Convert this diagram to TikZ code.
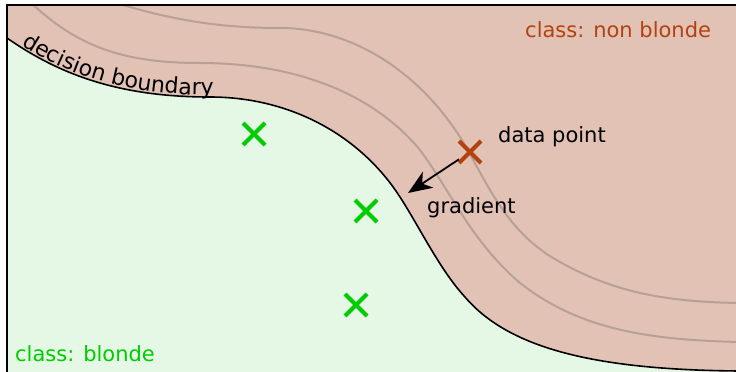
\documentclass[tikz,border=0pt]{standalone}
\usepackage{fontspec}
\setmainfont{DejaVu Sans}
\usetikzlibrary{arrows.meta,shapes.misc,decorations.text}
\definecolor{nonblondefill}{RGB}{226,194,180}
\definecolor{blondefill}{RGB}{229,248,230}
\definecolor{nonblondeink}{RGB}{178,66,16}
\definecolor{blondeink}{RGB}{0,204,0}
\definecolor{contour}{RGB}{184,160,150}
\tikzset{
  lbl/.style={anchor=base west, font=\fontsize{21}{25}\selectfont, inner sep=0pt},
  sample/.style={cross out, draw, line width=4pt, minimum size=18pt, inner sep=0pt},
  isoline/.style={draw=contour, line width=2pt},
  boundaryline/.style={draw=black, line width=1.6pt},
}
\begin{document}
\begin{tikzpicture}[x=1pt,y=-1pt]
\useasboundingbox (0,0) rectangle (736,372);
\begin{scope}
  \clip (7,5) rectangle (736,372);
  % blonde half-plane
  \fill[blondefill] (7,5) rectangle (736,372);
  % non-blonde region above the decision boundary
  \fill[nonblondefill] (7,38) .. controls (60,75) and (120,97) .. (210,97)
      .. controls (290,97) and (360,135) .. (400,197)
      .. controls (420,228) and (440,270) .. (465,297)
      .. controls (510,350) and (600,370) .. (740,371)
      -- (740,0) -- (0,0) -- (0,38) -- cycle;
  % level lines of the classifier score
  \draw[isoline] (28,0) .. controls (75,45) and (120,63) .. (200,63)
      .. controls (290,63) and (370,90) .. (420,150)
      .. controls (450,190) and (470,240) .. (520,283)
      .. controls (580,330) and (650,340) .. (740,342);
  \draw[isoline] (110,1) .. controls (170,20) and (220,28) .. (280,28)
      .. controls (350,28) and (420,70) .. (465,145)
      .. controls (490,190) and (510,235) .. (560,262)
      .. controls (610,290) and (660,302) .. (740,303);
  % decision boundary
  \draw[boundaryline] (7,38) .. controls (60,75) and (120,97) .. (210,97)
      .. controls (290,97) and (360,135) .. (400,197)
      .. controls (420,228) and (440,270) .. (465,297)
      .. controls (510,350) and (600,370) .. (740,371);
\end{scope}
% frame
\draw[line width=2pt] (7,372) -- (7,5) -- (736,5);
% label written along the boundary
\path[decorate, decoration={text along path,
    text format delimiters={|}{|},
    text={|\fontsize{22}{26}\selectfont|decision boundary},
    text align={left indent=16pt}, raise=2pt}]
  (7,38) .. controls (60,75) and (120,97) .. (210,97)
  .. controls (290,97) and (360,135) .. (400,197);
% samples
\node[sample, draw=blondeink] (b1) at (254,134) {};
\node[sample, draw=blondeink] (b2) at (366,211) {};
\node[sample, draw=blondeink] (b3) at (356,305) {};
\node[sample, draw=nonblondeink] (dp) at (470,152) {};
% gradient step
\coordinate (gradtip) at (408,193);
\draw[line width=1.8pt, -{Stealth[length=24pt,width=19pt,inset=7pt]}] (dp) -- (gradtip);
% labels
\node[lbl] (dplabel) at (498,142) {data point};
\node[lbl] (gradlabel) at (427,213) {gradient};
\node[lbl, text=nonblondeink] (nblabel) at (525,37) {class: non blonde};
\node[lbl, text=blondeink] (blabel) at (15,361) {class: blonde};
\end{tikzpicture}
\end{document}
